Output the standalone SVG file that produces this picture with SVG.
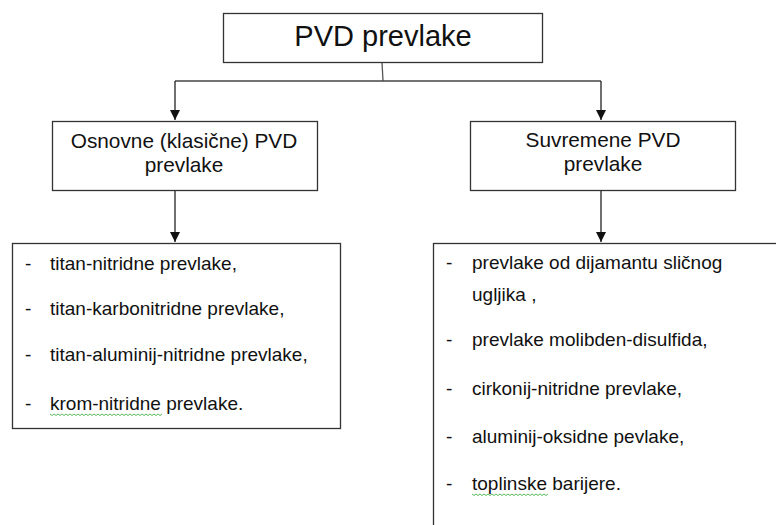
<svg xmlns="http://www.w3.org/2000/svg" width="776" height="525" viewBox="0 0 776 525">
<style>
  .box { fill: #ffffff; stroke: #333333; stroke-width: 1.3; }
  .conn { fill: none; stroke: #222222; stroke-width: 1.3; }
  .title { font-family: "Liberation Sans", Arial, sans-serif; font-size: 29px; fill: #111111; text-anchor: middle; }
  .head { font-family: "Liberation Sans", Arial, sans-serif; font-size: 20.8px; fill: #111111; text-anchor: middle; }
  .item { font-family: "Liberation Sans", Arial, sans-serif; font-size: 19px; fill: #111111; }
  .wavy { fill: none; stroke: #5cb85c; stroke-width: 1; }
</style>
<defs>
  <marker id="arr" viewBox="0 0 10 10" refX="10" refY="5" markerWidth="10" markerHeight="10" markerUnits="userSpaceOnUse" orient="auto">
    <path d="M0,0 L10,5 L0,10 Z" fill="#111111"/>
  </marker>
</defs>
<rect width="776" height="525" fill="#ffffff"/>
<g id="connectors">
  <path class="conn" d="M382,62 L383,81" style="stroke:#555555"/>
  <path class="conn" d="M175,81 L601,81" style="stroke:#444444"/>
  <path class="conn" d="M175,81 L175,120" marker-end="url(#arr)"/>
  <path class="conn" d="M601,81 L601,120" marker-end="url(#arr)"/>
  <path class="conn" d="M175,190 L175,242" marker-end="url(#arr)"/>
  <path class="conn" d="M601,190 L601,242" marker-end="url(#arr)"/>
</g>
<g id="root">
  <rect class="box" x="223.5" y="13.5" width="319" height="49"/>
  <text class="title" x="383" y="46">PVD prevlake</text>
</g>
<g id="osnovne">
  <rect class="box" x="52.5" y="121.5" width="265" height="69"/>
  <text class="head" x="184" y="148">Osnovne (klasične) PVD</text>
  <text class="head" x="184" y="172">prevlake</text>
</g>
<g id="suvremene">
  <rect class="box" x="470.5" y="121.5" width="265" height="69"/>
  <text class="head" x="603" y="147">Suvremene PVD</text>
  <text class="head" x="603" y="171">prevlake</text>
</g>
<g id="osnovne-list">
  <rect class="box" x="12.5" y="243.5" width="328" height="185"/>
  <text class="item" x="25" y="270">-</text><text class="item" x="50" y="270">titan-nitridne prevlake,</text>
  <text class="item" x="25" y="315">-</text><text class="item" x="50" y="315">titan-karbonitridne prevlake,</text>
  <text class="item" x="25" y="361">-</text><text class="item" x="50" y="361">titan-aluminij-nitridne prevlake,</text>
  <text class="item" x="25" y="410">-</text><text class="item" x="50" y="410">krom-nitridne prevlake.</text>
  <path class="wavy" d="M50,414 l2,1.5 l2,-1.5 l2,1.5 l2,-1.5 l2,1.5 l2,-1.5 l2,1.5 l2,-1.5 l2,1.5 l2,-1.5 l2,1.5 l2,-1.5 l2,1.5 l2,-1.5 l2,1.5 l2,-1.5 l2,1.5 l2,-1.5 l2,1.5 l2,-1.5 l2,1.5 l2,-1.5 l2,1.5 l2,-1.5 l2,1.5 l2,-1.5 l2,1.5 l2,-1.5 l2,1.5 l2,-1.5 l2,1.5 l2,-1.5 l2,1.5 l2,-1.5 l2,1.5 l2,-1.5 l2,1.5 l2,-1.5 l2,1.5 l2,-1.5 l2,1.5 l2,-1.5 l2,1.5 l2,-1.5 l2,1.5 l2,-1.5 l2,1.5 l2,-1.5 l2,1.5 l2,-1.5 l2,1.5 l2,-1.5 l2,1.5 l2,-1.5 l2,1.5 l2,-1.5"/>
</g>
<g id="suvremene-list">
  <rect class="box" x="433.5" y="243.5" width="400" height="320"/>
  <text class="item" x="446" y="269">-</text><text class="item" x="472" y="269">prevlake od dijamantu sličnog</text>
  <text class="item" x="472" y="301">ugljika ,</text>
  <text class="item" x="446" y="346">-</text><text class="item" x="472" y="346">prevlake molibden-disulfida,</text>
  <text class="item" x="446" y="395">-</text><text class="item" x="472" y="395">cirkonij-nitridne prevlake,</text>
  <text class="item" x="446" y="443">-</text><text class="item" x="472" y="443">aluminij-oksidne pevlake,</text>
  <text class="item" x="446" y="490">-</text><text class="item" x="472" y="490">toplinske barijere.</text>
  <path class="wavy" d="M472,494 l2,1.5 l2,-1.5 l2,1.5 l2,-1.5 l2,1.5 l2,-1.5 l2,1.5 l2,-1.5 l2,1.5 l2,-1.5 l2,1.5 l2,-1.5 l2,1.5 l2,-1.5 l2,1.5 l2,-1.5 l2,1.5 l2,-1.5 l2,1.5 l2,-1.5 l2,1.5 l2,-1.5 l2,1.5 l2,-1.5 l2,1.5 l2,-1.5 l2,1.5 l2,-1.5 l2,1.5 l2,-1.5 l2,1.5 l2,-1.5 l2,1.5 l2,-1.5 l2,1.5 l2,-1.5 l2,1.5 l2,-1.5"/>
</g>
</svg>
